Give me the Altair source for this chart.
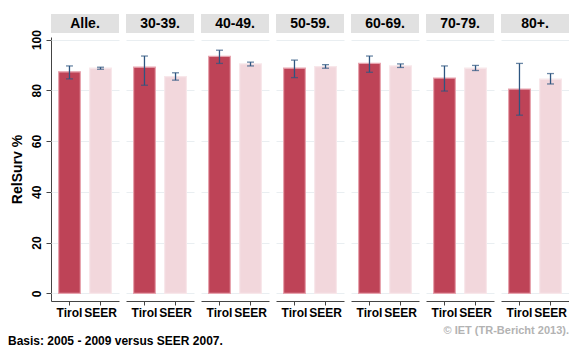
import altair as alt
import pandas as pd

groups = ["Alle.", "30-39.", "40-49.", "50-59.", "60-69.", "70-79.", "80+."]
sources = ["Tirol", "SEER"]
tirol = [87.3, 89.1, 93.4, 88.7, 90.6, 84.8, 80.5]
tirol_lo = [84.5, 82.0, 90.6, 85.0, 87.1, 79.7, 70.2]
tirol_hi = [89.6, 93.5, 95.8, 91.9, 93.5, 89.6, 90.6]
seer = [88.7, 85.4, 90.4, 89.3, 89.6, 88.7, 84.4]
seer_lo = [88.3, 84.0, 89.6, 88.7, 89.0, 87.8, 82.5]
seer_hi = [89.1, 86.9, 91.1, 90.1, 90.4, 89.8, 86.6]
notes = ["Basis: 2005 - 2009 versus SEER 2007.", "© IET (TR-Bericht 2013)."]

rows = []
for i, g in enumerate(groups):
    rows.append({"group": g, "src": "Tirol", "v": tirol[i], "lo": tirol_lo[i], "hi": tirol_hi[i]})
    rows.append({"group": g, "src": "SEER", "v": seer[i], "lo": seer_lo[i], "hi": seer_hi[i]})
df = pd.DataFrame(rows)

FONT = "Liberation Sans"
PW = 68
PH = 264
SP = 7
FW = 7 * PW + 6 * SP

xenc = alt.X("src:N", sort=sources, title=None,
             scale=alt.Scale(paddingInner=0.3, paddingOuter=0.245),
             axis=alt.Axis(labelAngle=0, labelFont=FONT, labelFontWeight="bold",
                           labelFontSize=12, labelColor="#000", labelPadding=2,
                           tickSize=4, tickColor="#444", domainColor="#444",
                           labelBound=False, labelOverlap=False))
yscale = alt.Scale(domain=[-3, 101], nice=False, zero=False)
yenc = alt.Y("v:Q", scale=yscale, title="RelSurv %",
             axis=alt.Axis(values=[0, 10, 20, 30, 40, 50, 60, 70, 80, 90, 100],
                           labelExpr="datum.value % 20 == 0 ? datum.label : ''",
                           labelAngle=270, labelAlign="center", labelBaseline="bottom",
                           labelFont=FONT, labelFontWeight="bold", labelFontSize=12,
                           labelColor="#000", labelPadding=3,
                           tickSize={"expr": "datum.value % 20 == 0 ? 5 : 3"},
                           tickColor="#444", domainColor="#444",
                           gridColor="#E9EEF1",
                           gridOpacity={"expr": "datum.value % 20 == 0 ? 1 : 0"},
                           titleFont=FONT, titleFontWeight="bold", titleFontSize=14,
                           titleColor="#000", titlePadding=6))

base = alt.Chart(df)

bars = base.mark_bar(strokeWidth=1.2).encode(
    x=xenc,
    y=yenc,
    y2=alt.Y2(datum=0),
    fill=alt.Color("src:N", scale=alt.Scale(domain=sources, range=["#BE4357", "#F2D7DC"]), legend=None),
    stroke=alt.Stroke("src:N", scale=alt.Scale(domain=sources, range=["#E7A3AE", "#F8E7EA"]), legend=None),
)

err = base.mark_rule(color="#2D5580", strokeWidth=1.3).encode(
    x=alt.X("src:N", sort=sources),
    y=alt.Y("lo:Q", scale=yscale),
    y2="hi:Q",
)
cap_lo = base.mark_tick(color="#2D5580", size=7, thickness=1.3, orient="horizontal").encode(
    x=alt.X("src:N", sort=sources), y=alt.Y("lo:Q", scale=yscale))
cap_hi = base.mark_tick(color="#2D5580", size=7, thickness=1.3, orient="horizontal").encode(
    x=alt.X("src:N", sort=sources), y=alt.Y("hi:Q", scale=yscale))

hdr_rect = base.transform_filter("datum.src == 'Tirol'").mark_rect(color="#E1E1E1").encode(
    x=alt.value(0), x2=alt.value(PW), y=alt.value(-23), y2=alt.value(-4))
hdr_text = base.transform_filter("datum.src == 'Tirol'").mark_text(
    font=FONT, fontWeight="bold", fontSize=14, color="#000", align="center", baseline="middle"
).encode(x=alt.value(PW / 2), y=alt.value(-13), text="group:N")

panel = alt.layer(hdr_rect, hdr_text, bars, err, cap_lo, cap_hi).properties(width=PW, height=PH)

facet = panel.facet(
    column=alt.Column("group:N", sort=groups,
                      header=alt.Header(labels=False, title=None, labelPadding=0, titlePadding=0)),
    spacing=SP,
).resolve_scale(x="independent")

ndf = pd.DataFrame({"note": notes, "kind": ["basis", "copy"]})
foot_basis = alt.Chart(ndf).transform_filter("datum.kind == 'basis'").mark_text(
    font=FONT, fontWeight="bold", fontSize=12, color="#000", align="left", baseline="middle"
).encode(x=alt.value(-43), y=alt.value(23), text="note:N")
foot_copy = alt.Chart(ndf).transform_filter("datum.kind == 'copy'").mark_text(
    font=FONT, fontWeight="bold", fontSize=11, color="#B3B3B3", align="right", baseline="middle"
).encode(x=alt.value(FW), y=alt.value(13), text="note:N")
footer = alt.layer(foot_basis, foot_copy).properties(width=FW, height=27)

chart = alt.vconcat(facet, footer, spacing=0).properties(
    padding={"top": 6, "left": 0, "right": 0, "bottom": 0}
).configure(background="white", view=alt.ViewConfig(stroke=None))

chart.save("out.html", embed_options={"renderer": "svg", "actions": False})
